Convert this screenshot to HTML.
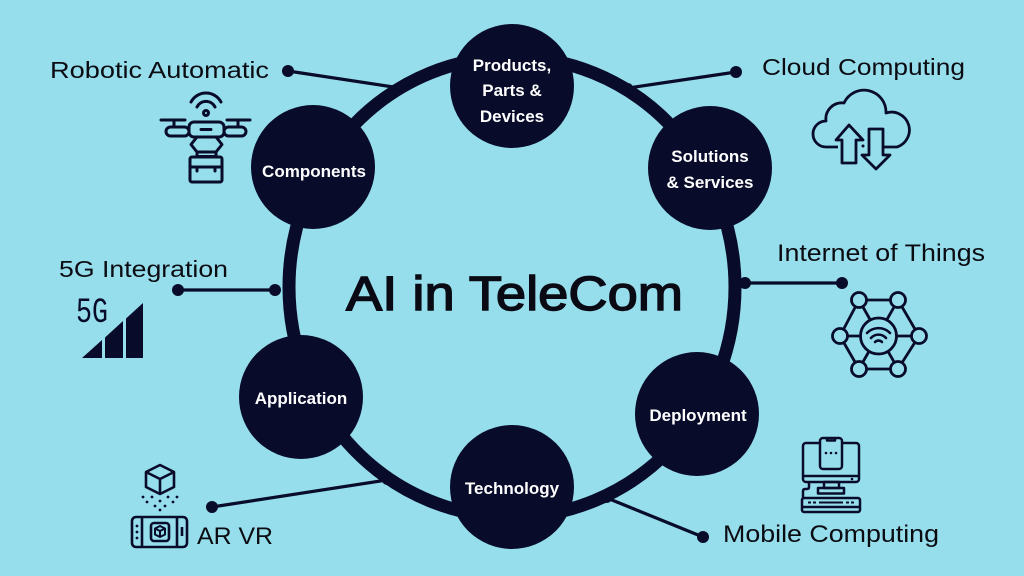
<!DOCTYPE html>
<html><head><meta charset="utf-8"><style>
html,body{margin:0;padding:0;background:#97DEEC;}
svg{display:block;}
</style></head><body>
<svg width="1024" height="576" viewBox="0 0 1024 576" xmlns="http://www.w3.org/2000/svg">
<rect width="1024" height="576" fill="#97DEEC"/>
<g fill="none" stroke="#080C2A">
<ellipse cx="512" cy="287" rx="223" ry="230" stroke-width="13"/>
<g stroke-width="3.2">
<line x1="288" y1="71" x2="400" y2="88"/>
<line x1="736" y1="72" x2="628" y2="88"/>
<line x1="178" y1="290" x2="275" y2="290"/>
<line x1="842" y1="283" x2="745" y2="283"/>
<line x1="212" y1="507" x2="387" y2="480"/>
<line x1="703" y1="537" x2="607" y2="498"/>
</g>
</g>
<g fill="#080C2A">
<circle cx="288" cy="71" r="6"/><circle cx="400" cy="88" r="5"/>
<circle cx="736" cy="72" r="6"/><circle cx="628" cy="88" r="5"/>
<circle cx="178" cy="290" r="6"/><circle cx="275" cy="290" r="6"/>
<circle cx="842" cy="283" r="6"/><circle cx="745" cy="283" r="6"/>
<circle cx="212" cy="507" r="6"/><circle cx="387" cy="480" r="5"/>
<circle cx="703" cy="537" r="6"/><circle cx="607" cy="498" r="5"/>
<circle cx="512" cy="86" r="62"/>
<circle cx="710" cy="168" r="62"/>
<circle cx="313" cy="167" r="62"/>
<circle cx="301" cy="397" r="62"/>
<circle cx="697" cy="414" r="62"/>
<circle cx="512" cy="487" r="62"/>
</g>
<g fill="#FFFFFF" font-family="'Liberation Sans', sans-serif" font-weight="bold" font-size="17" text-anchor="middle">
<text x="512" y="71">Products,</text>
<text x="512" y="96">Parts &amp;</text>
<text x="512" y="122">Devices</text>
<text x="710" y="162">Solutions</text>
<text x="710" y="188">&amp; Services</text>
<text x="314" y="177">Components</text>
<text x="301" y="404">Application</text>
<text x="698" y="421">Deployment</text>
<text x="512" y="494">Technology</text>
</g>
<text x="346" y="310" font-family="'Liberation Sans', sans-serif" font-size="48" fill="#0A0A14" stroke="#0A0A14" stroke-width="1.4" textLength="337" lengthAdjust="spacingAndGlyphs">AI in TeleCom</text>
<g fill="#0B0B12" font-family="'Liberation Sans', sans-serif">
<text x="50" y="78" font-size="23" textLength="219" lengthAdjust="spacingAndGlyphs">Robotic Automatic</text>
<text x="762" y="75" font-size="23" textLength="203" lengthAdjust="spacingAndGlyphs">Cloud Computing</text>
<text x="59" y="277" font-size="23" textLength="169" lengthAdjust="spacingAndGlyphs">5G Integration</text>
<text x="777" y="261" font-size="24" textLength="208" lengthAdjust="spacingAndGlyphs">Internet of Things</text>
<text x="197" y="544" font-size="24" textLength="76" lengthAdjust="spacingAndGlyphs">AR VR</text>
<text x="723" y="542" font-size="24" textLength="216" lengthAdjust="spacingAndGlyphs">Mobile Computing</text>
</g>

<!-- Drone icon -->
<g fill="none" stroke="#080C2A" stroke-width="3" stroke-linecap="round" stroke-linejoin="round">
<path d="M191 102 A17 17 0 0 1 221 102"/>
<path d="M197 107 A10 10 0 0 1 215 107"/>
<circle cx="206" cy="113" r="2.5"/>
<line x1="161" y1="120" x2="185" y2="120"/>
<line x1="227" y1="120" x2="250" y2="120"/>
<line x1="174" y1="120" x2="174" y2="127"/>
<line x1="238" y1="120" x2="238" y2="127"/>
<rect x="166" y="127" width="23" height="9" rx="4.5"/>
<rect x="224" y="127" width="22" height="9" rx="4.5"/>
<rect x="189" y="122" width="35" height="15" rx="5"/>
<line x1="201" y1="129.5" x2="211" y2="129.5"/>
<path d="M197 137 L191 144.5 L197 152 L216 152 L222 144.5 L216 137"/>
<rect x="197" y="152" width="19" height="4.5"/>
<rect x="190" y="157" width="32" height="25" rx="2"/>
<line x1="190" y1="167" x2="222" y2="167"/>
<line x1="197" y1="167" x2="197" y2="171"/>
<line x1="215" y1="167" x2="215" y2="171"/>
</g>

<!-- Cloud icon -->
<g fill="none" stroke="#080C2A" stroke-width="2.8" stroke-linejoin="round">
<path d="M838 147 H826 A13 13 0 0 1 826 121 A16 16 0 0 1 844 103 A22 22 0 0 1 886 113 A17 17 0 0 1 897 147 H884"/>
<polygon points="849,125 863,140 856,140 856,163 842,163 842,140 836,140"/>
<polygon points="869,129 883,129 883,155 890,155 876,169 862,155 869,155"/>
</g>
<circle cx="863" cy="146" r="1.5" fill="#080C2A"/>

<!-- 5G icon -->
<text x="76" y="322" font-family="'Liberation Mono', monospace" font-size="35" fill="#080C2A" textLength="32" lengthAdjust="spacingAndGlyphs">5G</text>
<g fill="#080C2A">
<polygon points="82,358 102,340 102,358"/>
<polygon points="105,337.5 123,321 123,358 105,358"/>
<polygon points="126,318.5 143,303 143,358 126,358"/>
</g>

<!-- IoT icon -->
<g fill="none" stroke="#080C2A" stroke-width="2.8">
<line x1="859" y1="300" x2="898" y2="300"/>
<line x1="859" y1="369" x2="898" y2="369"/>
<line x1="859" y1="300" x2="840" y2="336"/>
<line x1="898" y1="300" x2="919" y2="336"/>
<line x1="840" y1="336" x2="859" y2="369"/>
<line x1="919" y1="336" x2="898" y2="369"/>
<line x1="840" y1="336" x2="919" y2="336"/>
<line x1="859" y1="300" x2="898" y2="369"/>
<line x1="898" y1="300" x2="859" y2="369"/>
</g>
<circle cx="878.5" cy="336" r="18" fill="#97DEEC" stroke="#080C2A" stroke-width="2.8"/>
<g fill="#97DEEC" stroke="#080C2A" stroke-width="2.8">
<circle cx="859" cy="300" r="7.5"/>
<circle cx="898" cy="300" r="7.5"/>
<circle cx="840" cy="336" r="7.5"/>
<circle cx="919" cy="336" r="7.5"/>
<circle cx="859" cy="369" r="7.5"/>
<circle cx="898" cy="369" r="7.5"/>
</g>
<g fill="none" stroke="#080C2A" stroke-width="2.6" stroke-linecap="round">
<path d="M867 333 A16 16 0 0 1 890 333"/>
<path d="M871 338 A10 10 0 0 1 886 338"/>
<path d="M875 342 A5 5 0 0 1 882 342"/>
</g>

<!-- Mobile computing icon -->
<g fill="none" stroke="#080C2A" stroke-width="2.5" stroke-linejoin="round">
<rect x="803" y="443" width="56" height="39" rx="3"/>
<line x1="803" y1="476" x2="859" y2="476"/>
<rect x="820" y="438" width="22" height="31" rx="3" fill="#97DEEC"/>
<path d="M827 438 V440.5 H835 V438"/>
<rect x="824" y="482" width="15" height="6"/>
<rect x="818" y="488" width="26" height="5.5"/>
<path d="M809 482 V487 Q809 489 807 489 H805 Q803 489 803 491 V498"/>
<rect x="802" y="498" width="58" height="14" rx="2"/>
<line x1="802" y1="507" x2="860" y2="507"/>
</g>
<g fill="#080C2A">
<circle cx="826" cy="453" r="1.3"/><circle cx="831" cy="453" r="1.3"/><circle cx="836" cy="453" r="1.3"/>
<circle cx="852" cy="479" r="1.3"/>
<rect x="808" y="501.5" width="3" height="2"/><rect x="813" y="501.5" width="3" height="2"/>
<rect x="819" y="501.5" width="24" height="2"/>
<rect x="846" y="501.5" width="3" height="2"/><rect x="851" y="501.5" width="3" height="2"/>
</g>

<!-- AR VR icon -->
<g fill="none" stroke="#080C2A" stroke-width="2.6" stroke-linejoin="round">
<polygon points="160,465 174,472 174,487 160,494 146,487 146,472"/>
<polyline points="146,472 160,479 174,472"/>
<line x1="160" y1="479" x2="160" y2="494"/>
<rect x="132" y="517" width="55" height="30" rx="4"/>
<line x1="142" y1="517" x2="142" y2="547"/>
<line x1="177" y1="517" x2="177" y2="547"/>
<line x1="182" y1="527" x2="182" y2="536"/>
<rect x="151" y="523" width="18" height="18" rx="3"/>
<polygon points="160,526 165,528.5 165,534.5 160,537 155,534.5 155,528.5" stroke-width="2"/>
<polyline points="155,528.5 160,531 165,528.5" stroke-width="2"/>
<line x1="160" y1="531" x2="160" y2="537" stroke-width="2"/>
</g>
<g fill="#080C2A">
<circle cx="143" cy="497" r="1.4"/><circle cx="152" cy="497" r="1.4"/><circle cx="168" cy="497" r="1.4"/><circle cx="177" cy="497" r="1.4"/>
<circle cx="147" cy="502" r="1.4"/><circle cx="160" cy="501" r="1.4"/><circle cx="173" cy="502" r="1.4"/>
<circle cx="155" cy="506" r="1.4"/><circle cx="165" cy="506" r="1.4"/>
<circle cx="160" cy="510" r="1.4"/>
<circle cx="137" cy="526" r="1.4"/><circle cx="137" cy="532" r="1.4"/><circle cx="137" cy="538" r="1.4"/>
</g>
</svg>
</body></html>
